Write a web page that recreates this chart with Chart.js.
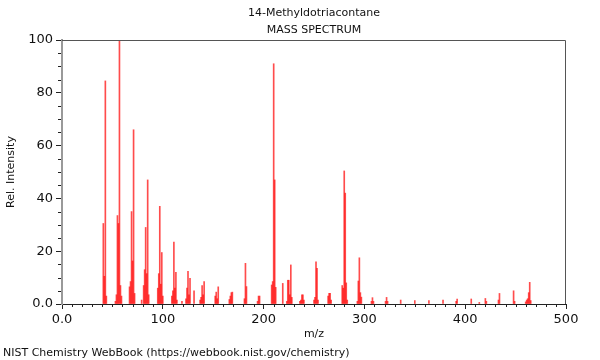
<!DOCTYPE html>
<html>
<head>
<meta charset="utf-8">
<script src="https://cdn.jsdelivr.net/npm/chart.js@4.4.0/dist/chart.umd.min.js"></script>
<style>
  body { margin: 0; background: #fff; }
  canvas { display: block; }
</style>
</head>
<body>
<canvas id="chart1" width="600" height="360"></canvas>
<script>
// peaks (m/z and relative intensity)
var mz = [
  41, 42, 43, 44,
  53, 54, 55, 56, 57, 58, 59,
  67, 68, 69, 70, 71, 72,
  79, 81, 82, 83, 84, 85, 86,
  95, 96, 97, 98, 99, 100,
  109, 110, 111, 112, 113, 114,
  119, 123, 124, 125, 126, 127, 131,
  137, 138, 139, 140, 141,
  152, 153, 154, 155,
  166, 167, 168, 169,
  181, 182, 183,
  194, 195, 196,
  208, 209, 210, 211, 212,
  219, 223, 224, 225, 226, 227, 228,
  236, 237, 238, 239, 240,
  250, 251, 252, 253, 254,
  264, 265, 266, 267,
  278, 279, 280, 281, 282, 283,
  293, 294, 295, 296, 297,
  307, 308, 309,
  321, 322, 323,
  336, 350, 364, 378, 391, 392, 406, 414,
  420, 421, 433, 434, 448, 449,
  460, 461, 462, 463, 464, 465
];
var intensity = [
  30.5, 10.5, 84.5, 3,
  1, 3.5, 33.5, 30.5, 100, 7, 3,
  6.5, 8.5, 35, 16.3, 66, 4,
  1.5, 7, 13, 29, 11.5, 47, 3.5,
  6, 11.5, 37, 7.5, 19.5, 3,
  3, 5, 23.5, 6, 12, 1.5,
  1, 2, 6, 12.4, 3.5, 9.7, 5,
  1.5, 2.5, 7, 3.5, 8.5,
  3, 4.5, 2, 6.5,
  1.7, 3, 4.3, 4.5,
  2, 15.4, 6.6,
  1, 3, 3,
  7.2, 8.5, 91, 47, 6.3,
  7.8, 1, 9, 9, 3.5, 14.8, 2.5,
  1, 1.5, 3.5, 3.5, 1.5,
  1.5, 2.5, 16, 13.5, 1.5,
  3, 4, 4, 1.5,
  7, 6, 50.4, 42, 8, 1.5,
  1, 8.7, 17.5, 4.3, 2.6,
  1, 2.4, 1,
  1, 2.5, 1,
  1.5, 1.3, 1.3, 1.5, 1, 1.9, 1.9, 0.6,
  2.1, 1, 1.5, 4, 5, 1,
  0.8, 1.5, 2, 4.3, 8.2, 1.3
];

var xTicks = [0, 100, 200, 300, 400, 500];
var yTicks = [0, 20, 40, 60, 80, 100];

var titleLines = ["14-Methyldotriacontane", "MASS SPECTRUM"];
var xTitle = "m/z";
var yTitle = "Rel. Intensity";
var footer = "NIST Chemistry WebBook (https://webbook.nist.gov/chemistry)";

var points = mz.map(function (m, i) {
  return { x: m, y: intensity[i] };
});

function tickLabel(v) {
  return v === 0 ? "0.0" : String(v);
}

var fontName = '"DejaVu Sans", sans-serif';

// frame, minor ticks and the texts
var decor = {
  id: "decor",
  afterDraw: function (chart) {
    var ctx = chart.ctx;
    var a = chart.chartArea;
    var xs = chart.scales.x;
    var ys = chart.scales.y;
    ctx.save();

    ctx.strokeStyle = "#555";
    ctx.lineWidth = 1;
    ctx.beginPath();
    ctx.moveTo(a.left, a.top + 0.5);
    ctx.lineTo(a.right - 0.5, a.top + 0.5);
    ctx.lineTo(a.right - 0.5, a.bottom);
    ctx.stroke();

    ctx.strokeStyle = "#222";
    ctx.beginPath();
    for (var v = 10; v < 500; v += 10) {
      if (v % 100 === 0) continue;
      var px = Math.round(xs.getPixelForValue(v)) + 0.5;
      ctx.moveTo(px, a.bottom);
      ctx.lineTo(px, a.bottom + 3);
    }
    for (var w = 5; w < 100; w += 5) {
      if (w % 20 === 0) continue;
      var py = Math.round(ys.getPixelForValue(w)) + 0.5;
      ctx.moveTo(a.left - 1, py);
      ctx.lineTo(a.left - 4, py);
    }
    ctx.stroke();

    var cx = (a.left + a.right) / 2;
    ctx.fillStyle = "#111";
    ctx.font = "11px " + fontName;
    ctx.textAlign = "center";
    ctx.textBaseline = "middle";
    ctx.fillText(titleLines[0], cx, 13);
    ctx.fillText(titleLines[1], cx, 30);
    ctx.fillText(xTitle, cx, 334);

    ctx.save();
    ctx.translate(11, (a.top + a.bottom) / 2);
    ctx.rotate(-Math.PI / 2);
    ctx.fillText(yTitle, 0, 0);
    ctx.restore();

    ctx.textAlign = "left";
    ctx.fillText(footer, 3, 353);
    ctx.restore();
  }
};

var ctx = document.getElementById("chart1").getContext("2d");
var myChart = new Chart(ctx, {
  type: "bar",
  data: {
    datasets: [
      {
        data: points,
        backgroundColor: "rgba(255, 0, 0, 0.7)",
        borderWidth: 0,
        barThickness: 1,
        grouped: false
      }
    ]
  },
  options: {
    responsive: false,
    animation: false,
    layout: { padding: { top: 40, right: 34, left: 0, bottom: 0 } },
    plugins: {
      legend: { display: false },
      tooltip: { enabled: false },
      title: { display: false }
    },
    scales: {
      x: {
        type: "linear",
        min: 0,
        max: 500,
        offset: false,
        afterFit: function (scale) { scale.height = 56; },
        afterBuildTicks: function (scale) {
          scale.ticks = xTicks.map(function (v) { return { value: v }; });
        },
        grid: {
          offset: false,
          drawOnChartArea: false,
          drawTicks: true,
          tickLength: 5,
          tickColor: "#222"
        },
        border: { color: "#222", width: 1 },
        ticks: {
          autoSkip: false,
          maxRotation: 0,
          padding: 3,
          color: "#111",
          font: { family: fontName, size: 13 },
          callback: tickLabel
        }
      },
      y: {
        min: 0,
        max: 100,
        afterFit: function (scale) { scale.width = 62; },
        afterBuildTicks: function (scale) {
          scale.ticks = yTicks.map(function (v) { return { value: v }; });
        },
        grid: {
          drawOnChartArea: false,
          drawTicks: true,
          tickLength: 6,
          tickColor: "#222"
        },
        border: { color: "#999", width: 2 },
        ticks: {
          padding: 3,
          color: "#111",
          font: { family: fontName, size: 13 },
          callback: tickLabel
        }
      }
    }
  },
  plugins: [decor]
});
</script>
</body>
</html>
